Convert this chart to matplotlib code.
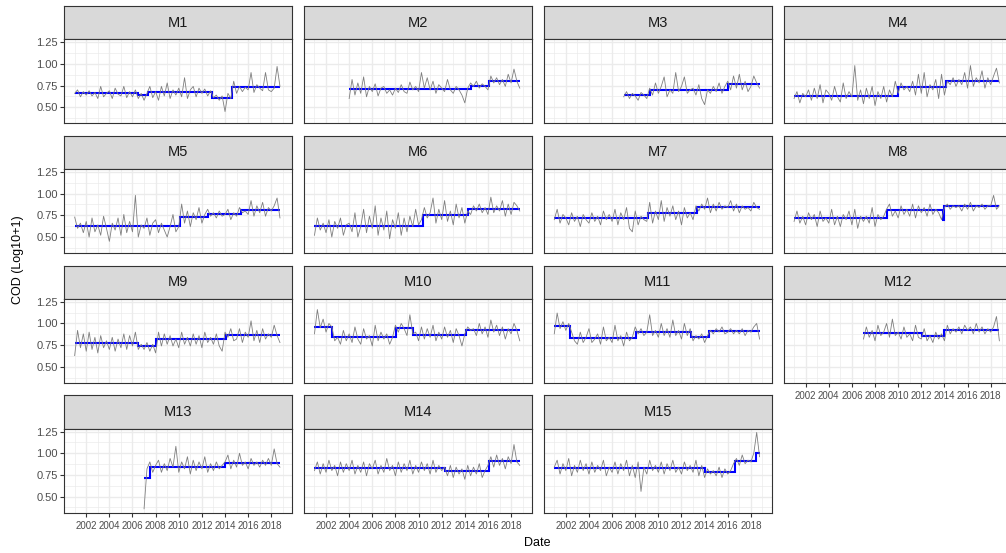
import numpy as np
import matplotlib.pyplot as plt

plt.rcParams['font.family'] = ['Liberation Sans', 'DejaVu Sans']

stations = ['M1', 'M2', 'M3', 'M4', 'M5', 'M6', 'M7', 'M8',
            'M9', 'M10', 'M11', 'M12', 'M13', 'M14', 'M15']
# first year of each quarterly record
start_years = [2001, 2004, 2007, 2001, 2001, 2001, 2001, 2001,
               2001, 2001, 2001, 2007, 2007, 2001, 2001]

# quarterly COD, log10(x + 1)
m1_cod = [0.66, 0.70, 0.62, 0.68, 0.64, 0.69, 0.63, 0.67, 0.60, 0.74, 0.62, 0.66,
          0.69, 0.60, 0.72, 0.65, 0.63, 0.74, 0.61, 0.68, 0.62, 0.70, 0.60, 0.66,
          0.58, 0.66, 0.74, 0.61, 0.68, 0.58, 0.74, 0.63, 0.78, 0.60, 0.70, 0.64,
          0.72, 0.62, 0.84, 0.60, 0.70, 0.74, 0.62, 0.72, 0.66, 0.71, 0.63, 0.69,
          0.61, 0.64, 0.58, 0.63, 0.45, 0.66, 0.60, 0.80, 0.66, 0.74, 0.68, 0.73,
          0.70, 0.90, 0.67, 0.76, 0.72, 0.69, 0.90, 0.70, 0.68, 0.72, 0.97, 0.74]
m2_cod = [0.60, 0.82, 0.64, 0.78, 0.66, 0.85, 0.62, 0.74, 0.68, 0.77, 0.63, 0.72,
          0.74, 0.66, 0.70, 0.64, 0.72, 0.67, 0.76, 0.68, 0.66, 0.79, 0.70, 0.74,
          0.68, 0.90, 0.72, 0.84, 0.70, 0.80, 0.66, 0.76, 0.72, 0.68, 0.82, 0.70,
          0.66, 0.74, 0.70, 0.64, 0.55, 0.72, 0.78, 0.74, 0.80, 0.72, 0.77, 0.74,
          0.70, 0.86, 0.78, 0.84, 0.76, 0.82, 0.74, 0.88, 0.78, 0.94, 0.80, 0.72]
m3_cod = [0.62, 0.68, 0.60, 0.66, 0.63, 0.58, 0.67, 0.64, 0.60, 0.72, 0.64, 0.78,
          0.66, 0.74, 0.85, 0.62, 0.70, 0.66, 0.90, 0.68, 0.74, 0.85, 0.66, 0.70,
          0.72, 0.64, 0.76, 0.60, 0.53, 0.70, 0.66, 0.74, 0.68, 0.78, 0.66, 0.74,
          0.80, 0.70, 0.86, 0.72, 0.88, 0.70, 0.80, 0.68, 0.74, 0.86, 0.78, 0.72]
m4_cod = [0.60, 0.68, 0.55, 0.66, 0.62, 0.70, 0.58, 0.72, 0.60, 0.76, 0.55, 0.70,
          0.66, 0.58, 0.74, 0.62, 0.56, 0.78, 0.60, 0.68, 0.62, 0.98, 0.58, 0.70,
          0.54, 0.72, 0.60, 0.74, 0.52, 0.68, 0.60, 0.74, 0.56, 0.70, 0.62, 0.80,
          0.66, 0.78, 0.70, 0.74, 0.68, 0.80, 0.64, 0.88, 0.66, 0.90, 0.62, 0.76,
          0.70, 0.82, 0.60, 0.88, 0.64, 0.80, 0.76, 0.84, 0.74, 0.82, 0.76, 0.90,
          0.72, 0.98, 0.74, 0.84, 0.78, 0.92, 0.72, 0.84, 0.76, 0.86, 0.95, 0.78]
m5_cod = [0.73, 0.60, 0.66, 0.55, 0.68, 0.50, 0.72, 0.56, 0.64, 0.52, 0.74, 0.60,
          0.45, 0.66, 0.58, 0.72, 0.52, 0.76, 0.55, 0.68, 0.56, 0.98, 0.50, 0.64,
          0.60, 0.72, 0.52, 0.66, 0.70, 0.55, 0.66, 0.58, 0.50, 0.62, 0.76, 0.56,
          0.62, 0.88, 0.66, 0.80, 0.62, 0.78, 0.70, 0.84, 0.66, 0.76, 0.82, 0.74,
          0.78, 0.72, 0.80, 0.74, 0.76, 0.82, 0.70, 0.78, 0.74, 0.84, 0.78, 0.80,
          0.76, 0.92, 0.74, 0.86, 0.78, 0.90, 0.74, 0.84, 0.80, 0.86, 0.95, 0.72]
m6_cod = [0.52, 0.72, 0.58, 0.66, 0.55, 0.70, 0.50, 0.68, 0.60, 0.72, 0.52, 0.64,
          0.66, 0.56, 0.78, 0.50, 0.62, 0.82, 0.55, 0.74, 0.60, 0.86, 0.52, 0.72,
          0.58, 0.80, 0.48, 0.70, 0.60, 0.78, 0.52, 0.72, 0.56, 0.74, 0.62, 0.82,
          0.64, 0.70, 0.84, 0.72, 0.78, 0.95, 0.66, 0.82, 0.70, 0.92, 0.68, 0.80,
          0.64, 0.88, 0.72, 0.84, 0.66, 0.80, 0.76, 0.86, 0.80, 0.88, 0.78, 0.84,
          0.76, 0.96, 0.78, 0.86, 0.80, 0.92, 0.74, 0.88, 0.76, 0.90, 0.86, 0.80]
m7_cod = [0.70, 0.82, 0.66, 0.76, 0.72, 0.64, 0.78, 0.68, 0.74, 0.62, 0.76, 0.70,
          0.66, 0.78, 0.68, 0.74, 0.64, 0.80, 0.70, 0.76, 0.68, 0.82, 0.64, 0.78,
          0.70, 0.84, 0.60, 0.56, 0.80, 0.64, 0.74, 0.70, 0.68, 0.90, 0.66, 0.80,
          0.70, 0.92, 0.68, 0.84, 0.74, 0.86, 0.70, 0.80, 0.64, 0.84, 0.72, 0.78,
          0.70, 0.86, 0.80, 0.88, 0.82, 0.95, 0.78, 0.88, 0.80, 0.90, 0.82, 0.86,
          0.84, 0.92, 0.80, 0.88, 0.78, 0.86, 0.82, 0.84, 0.80, 0.90, 0.84, 0.82]
m8_cod = [0.68, 0.80, 0.66, 0.74, 0.64, 0.78, 0.70, 0.76, 0.62, 0.80, 0.68, 0.72,
          0.66, 0.82, 0.64, 0.74, 0.62, 0.76, 0.70, 0.80, 0.64, 0.82, 0.60, 0.74,
          0.68, 0.74, 0.66, 0.84, 0.62, 0.76, 0.70, 0.74, 0.82, 0.88, 0.74, 0.80,
          0.72, 0.86, 0.76, 0.82, 0.74, 0.88, 0.72, 0.86, 0.78, 0.84, 0.74, 0.88,
          0.76, 0.82, 0.78, 0.70, 0.84, 0.88, 0.82, 0.86, 0.84, 0.86, 0.80, 0.88,
          0.82, 0.90, 0.80, 0.86, 0.84, 0.88, 0.82, 0.86, 0.86, 0.98, 0.82, 0.86]
m9_cod = [0.63, 0.92, 0.72, 0.88, 0.68, 0.90, 0.70, 0.84, 0.66, 0.86, 0.72, 0.80,
          0.70, 0.84, 0.68, 0.82, 0.72, 0.88, 0.70, 0.86, 0.74, 0.90, 0.70, 0.76,
          0.70, 0.78, 0.68, 0.76, 0.66, 0.90, 0.74, 0.88, 0.76, 0.86, 0.74, 0.82,
          0.72, 0.90, 0.76, 0.84, 0.74, 0.88, 0.76, 0.86, 0.72, 0.90, 0.78, 0.84,
          0.76, 0.88, 0.74, 0.68, 0.90, 0.84, 0.94, 0.80, 0.82, 0.94, 0.78, 0.90,
          0.84, 1.03, 0.80, 0.92, 0.78, 0.94, 0.82, 0.88, 0.84, 0.98, 0.86, 0.78]
m10_cod = [0.88, 1.16, 0.95, 1.05, 0.90, 1.00, 0.96, 0.80, 0.84, 0.76, 0.92, 0.80,
           0.88, 0.78, 0.96, 0.82, 0.76, 0.94, 0.82, 0.86, 0.74, 0.98, 0.80, 0.90,
           0.82, 0.88, 0.76, 0.84, 0.98, 0.90, 1.00, 0.94, 0.86, 1.10, 0.88, 0.90,
           0.80, 0.96, 0.82, 0.94, 0.84, 0.98, 0.80, 0.90, 0.82, 0.96, 0.84, 0.92,
           0.78, 0.94, 0.86, 0.74, 0.88, 0.96, 0.92, 0.94, 0.86, 1.00, 0.88, 0.96,
           0.84, 1.04, 0.90, 0.98, 0.86, 0.96, 0.82, 0.94, 0.88, 1.00, 0.92, 0.80]
m11_cod = [0.88, 1.12, 0.94, 1.02, 0.92, 1.00, 0.90, 0.80, 0.76, 0.90, 0.78, 0.84,
           0.94, 0.78, 0.82, 0.88, 0.76, 0.96, 0.80, 0.84, 0.78, 0.98, 0.80, 0.86,
           0.74, 0.90, 0.80, 0.84, 0.96, 0.88, 0.94, 0.86, 0.90, 1.10, 0.86, 0.92,
           0.84, 1.00, 0.86, 0.94, 0.84, 1.04, 0.86, 0.92, 0.82, 1.00, 0.86, 0.94,
           0.80, 0.86, 0.82, 0.88, 0.78, 0.86, 0.92, 0.88, 0.94, 0.90, 0.96, 0.88,
           0.90, 0.94, 0.88, 0.92, 0.88, 0.94, 0.86, 0.92, 0.90, 0.96, 1.00, 0.82]
m12_cod = [0.82, 0.96, 0.84, 0.92, 0.80, 0.98, 0.86, 0.90, 1.00, 0.84, 1.05, 0.86,
           0.90, 0.82, 0.96, 0.84, 0.88, 0.80, 0.98, 0.84, 0.82, 0.94, 0.80, 0.86,
           0.78, 0.90, 0.82, 0.88, 0.80, 0.98, 0.88, 0.94, 0.90, 0.96, 0.88, 0.98,
           0.92, 0.96, 0.88, 1.00, 0.90, 0.96, 0.88, 0.94, 0.90, 0.96, 1.08, 0.80]
m13_cod = [0.36, 0.82, 0.90, 0.78, 0.86, 0.92, 0.78, 0.88, 0.80, 0.94, 0.84, 1.08,
           0.78, 0.90, 0.82, 0.96, 0.76, 0.92, 0.80, 0.90, 0.82, 0.96, 0.78, 0.88,
           0.80, 0.90, 0.82, 0.86, 0.90, 0.98, 0.82, 0.92, 0.84, 1.00, 0.86, 0.90,
           0.82, 0.94, 0.86, 0.90, 0.84, 0.92, 0.86, 0.94, 0.86, 1.05, 0.88, 0.84]
m14_cod = [0.80, 0.90, 0.76, 0.88, 0.78, 0.92, 0.80, 0.86, 0.74, 0.90, 0.78, 0.88,
           0.80, 0.92, 0.76, 0.86, 0.78, 0.90, 0.74, 0.88, 0.82, 0.92, 0.76, 0.86,
           0.78, 0.94, 0.80, 0.86, 0.74, 0.90, 0.78, 0.88, 0.80, 0.92, 0.76, 0.86,
           0.78, 0.90, 0.80, 0.88, 0.76, 0.92, 0.78, 0.86, 0.80, 0.84, 0.74, 0.86,
           0.72, 0.84, 0.76, 0.82, 0.70, 0.86, 0.74, 0.84, 0.76, 0.88, 0.72, 0.80,
           0.86, 0.96, 0.84, 0.98, 0.86, 0.94, 0.82, 0.96, 0.88, 1.10, 0.90, 0.86]
m15_cod = [0.84, 0.92, 0.76, 0.88, 0.80, 0.94, 0.74, 0.86, 0.78, 0.92, 0.80, 0.88,
           0.76, 0.90, 0.78, 0.86, 0.80, 0.92, 0.74, 0.84, 0.78, 0.90, 0.76, 0.88,
           0.80, 0.92, 0.74, 0.86, 0.72, 0.90, 0.56, 0.84, 0.76, 0.92, 0.80, 0.86,
           0.78, 0.90, 0.76, 0.88, 0.80, 0.92, 0.78, 0.84, 0.76, 0.90, 0.80, 0.86,
           0.78, 0.92, 0.74, 0.86, 0.72, 0.82, 0.76, 0.80, 0.74, 0.84, 0.72, 0.82,
           0.76, 0.80, 0.88, 0.94, 0.86, 0.98, 0.88, 0.92, 0.90, 1.00, 1.24, 0.96]

# change-point segments: edges (years) and segment means
m1_breaks = [2001, 2006.5, 2007.3, 2012.9, 2014.6, 2018.75]
m1_means = [0.66, 0.637, 0.672, 0.61, 0.735]
m2_breaks = [2004, 2014.5, 2016.1, 2018.75]
m2_means = [0.71, 0.75, 0.80]
m3_breaks = [2007, 2009.3, 2016.0, 2018.75]
m3_means = [0.64, 0.70, 0.77]
m4_breaks = [2001, 2010.0, 2014.1, 2018.75]
m4_means = [0.627, 0.73, 0.80]
m5_breaks = [2001, 2010.1, 2012.5, 2015.4, 2018.75]
m5_means = [0.623, 0.73, 0.77, 0.81]
m6_breaks = [2001, 2010.4, 2014.3, 2018.75]
m6_means = [0.63, 0.754, 0.827]
m7_breaks = [2001, 2009.1, 2013.3, 2018.75]
m7_means = [0.723, 0.777, 0.85]
m8_breaks = [2001, 2009.0, 2013.85, 2014.0, 2018.75]
m8_means = [0.723, 0.808, 0.696, 0.854]
m9_breaks = [2001, 2006.5, 2008.05, 2014.1, 2018.75]
m9_means = [0.77, 0.742, 0.815, 0.865]
m10_breaks = [2001, 2002.5, 2008.05, 2009.55, 2014.1, 2018.75]
m10_means = [0.96, 0.846, 0.942, 0.87, 0.923]
m11_breaks = [2001, 2002.4, 2008.05, 2012.8, 2014.4, 2018.75]
m11_means = [0.965, 0.838, 0.904, 0.846, 0.915]
m12_breaks = [2007, 2012.1, 2014.0, 2018.75]
m12_means = [0.885, 0.85, 0.927]
m13_breaks = [2007, 2007.5, 2014.0, 2018.75]
m13_means = [0.72, 0.845, 0.885]
m14_breaks = [2001, 2012.3, 2016.1, 2018.75]
m14_means = [0.83, 0.79, 0.91]
m15_breaks = [2001, 2014.0, 2016.6, 2018.4, 2018.75]
m15_means = [0.83, 0.78, 0.91, 1.0]

cod_series = [m1_cod, m2_cod, m3_cod, m4_cod, m5_cod, m6_cod, m7_cod, m8_cod,
              m9_cod, m10_cod, m11_cod, m12_cod, m13_cod, m14_cod, m15_cod]
step_breaks = [m1_breaks, m2_breaks, m3_breaks, m4_breaks, m5_breaks, m6_breaks,
               m7_breaks, m8_breaks, m9_breaks, m10_breaks, m11_breaks,
               m12_breaks, m13_breaks, m14_breaks, m15_breaks]
step_means = [m1_means, m2_means, m3_means, m4_means, m5_means, m6_means,
              m7_means, m8_means, m9_means, m10_means, m11_means, m12_means,
              m13_means, m14_means, m15_means]

W, H = 1006, 553
fig = plt.figure(figsize=(W / 100, H / 100), dpi=100)

# facet grid geometry, in pixels
col_left = [64.3, 304.1, 543.9, 783.7]
panel_w = 228
strip_top0 = 6.0
row_step = 129.8
strip_h = 33.2
panel_h = 84

all_vals = np.concatenate([np.asarray(v) for v in cod_series])
y_lo, y_hi = all_vals.min(), all_vals.max()
y_pad = 0.05 * (y_hi - y_lo)
x_lo, x_hi = 2001.0, 2018.92
x_pad = 0.05 * (x_hi - x_lo)

edge = '#333333'
for i, name in enumerate(stations):
    r, c = divmod(i, 4)
    top = strip_top0 + r * row_step

    sax = fig.add_axes([col_left[c] / W, 1 - (top + strip_h) / H,
                        panel_w / W, strip_h / H])
    sax.set_facecolor('#D9D9D9')
    sax.set_xticks([])
    sax.set_yticks([])
    for s in sax.spines.values():
        s.set_color(edge)
        s.set_linewidth(0.8)
    sax.text(0.5, 0.5, name, ha='center', va='center', fontsize=10.5,
             color='#1A1A1A', transform=sax.transAxes)

    ax = fig.add_axes([col_left[c] / W, 1 - (top + strip_h + panel_h) / H,
                       panel_w / W, panel_h / H])
    t = start_years[i] + 0.25 * np.arange(len(cod_series[i]))
    ax.plot(t, cod_series[i], color='#7F7F7F', lw=0.6)
    ax.stairs(step_means[i], step_breaks[i], baseline=None, color='blue', lw=1.5)

    ax.set_xlim(x_lo - x_pad, x_hi + x_pad)
    ax.set_ylim(y_lo - y_pad, y_hi + y_pad)
    ax.set_xticks(range(2002, 2019, 2))
    ax.set_xticks(range(2001, 2020, 2), minor=True)
    ax.set_yticks([0.5, 0.75, 1.0, 1.25])
    ax.set_yticks([0.375, 0.625, 0.875, 1.125], minor=True)
    ax.set_yticklabels(['0.50', '0.75', '1.00', '1.25'])
    ax.set_axisbelow(True)
    ax.grid(which='major', color='#EBEBEB', lw=1.0)
    ax.grid(which='minor', color='#EBEBEB', lw=0.5)
    for s in ax.spines.values():
        s.set_color(edge)
        s.set_linewidth(0.8)

    show_x = r == 3 or (r == 2 and c == 3)
    show_y = c == 0
    ax.tick_params(which='minor', length=0)
    ax.tick_params(axis='x', which='major', bottom=show_x, labelbottom=show_x,
                   length=2.75, width=0.8, color=edge, labelsize=7,
                   labelcolor='#4D4D4D', pad=3.5)
    ax.tick_params(axis='y', which='major', left=show_y, labelleft=show_y,
                   length=2.75, width=0.8, color=edge, labelsize=8,
                   labelcolor='#4D4D4D', pad=2)

fig.text(537.5 / W, 1 - 543 / H, 'Date', ha='center', va='center', fontsize=9)
fig.text(18 / W, 1 - 260 / H, 'COD (Log10+1)', ha='center', va='center',
         rotation=90, fontsize=9)

fig.savefig('out.png', dpi=100)
